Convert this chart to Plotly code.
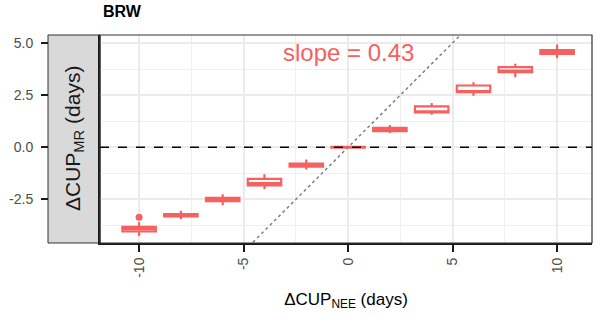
import plotly.graph_objects as go

# data
x_pos = [-10, -8, -6, -4, -2, 0, 2, 4, 6, 8, 10]
q1 = [-4.03, -3.31, -2.59, -1.83, -0.93, -0.02, 0.77, 1.67, 2.64, 3.60, 4.48]
med = [-3.92, -3.25, -2.50, -1.72, -0.86, 0.00, 0.85, 1.72, 2.69, 3.67, 4.56]
q3 = [-3.82, -3.20, -2.43, -1.52, -0.79, 0.02, 0.93, 1.96, 2.96, 3.84, 4.66]
lo = [-4.26, -3.44, -2.78, -2.00, -1.07, -0.07, 0.68, 1.56, 2.47, 3.36, 4.26]
hi = [-3.59, -3.05, -2.25, -1.29, -0.59, 0.07, 1.07, 2.12, 3.11, 4.00, 4.93]
out_x = [-10]
out_y = [-3.35]
slope_label = "slope = 0.43"
x_ticks = [-10, -5, 0, 5, 10]
y_ticks = [-2.5, 0.0, 2.5, 5.0]
y_ticklabels = ["-2.5", "0.0", "2.5", "5.0"]

RED = "#F6605F"
XR = [-11.87, 11.67]
YR = [-4.59, 5.38]

fig = go.Figure()
# 1:1 line
fig.add_trace(go.Scatter(x=[XR[0], XR[1]], y=[XR[0], XR[1]], mode="lines",
                         line=dict(color="#7F7F7F", dash="dot", width=1.5),
                         hoverinfo="skip", showlegend=False))
fig.add_trace(go.Box(x=x_pos, q1=q1, median=med, q3=q3, lowerfence=lo, upperfence=hi,
                     width=1.6, whiskerwidth=0, boxpoints=False,
                     line=dict(color=RED, width=2.2), fillcolor="white",
                     showlegend=False))
fig.add_trace(go.Scatter(x=out_x, y=out_y, mode="markers",
                         marker=dict(color=RED, size=7), showlegend=False))
# dummy trace for free y axis
fig.add_trace(go.Scatter(x=[0], y=[0], yaxis="y2", mode="markers",
                         marker=dict(opacity=0), hoverinfo="skip", showlegend=False))

L, R, T, B = 48, 8, 35, 71
pw = 600 - L - R
xd0 = (100 - L) / pw

fig.update_layout(
    width=600, height=314,
    margin=dict(l=L, r=R, t=T, b=B, autoexpand=False),
    paper_bgcolor="white", plot_bgcolor="white",
    font=dict(family="Liberation Sans, Arial", color="#4D4D4D"),
    xaxis=dict(domain=[xd0, 1], range=XR, tickvals=x_ticks, ticktext=[str(v) for v in x_ticks],
               tickangle=-90, ticks="outside", ticklen=7, tickwidth=1.8, tickcolor="#1A1A1A",
               tickfont=dict(size=14, color="#4D4D4D"), automargin=False,
               showgrid=True, gridcolor="#EBEBEB", gridwidth=1.6,
               minor=dict(dtick=2.5, tick0=0, showgrid=True, gridcolor="#EFEFEF", gridwidth=0.8),
               zeroline=False, showline=True, linecolor="#1A1A1A", linewidth=2, mirror=False,
               title=dict(text="ΔCUP<sub>NEE</sub> (days)", font=dict(size=17, color="black"), standoff=16)),
    yaxis=dict(range=YR, tickvals=y_ticks, showticklabels=False, ticks="", automargin=False,
               showgrid=True, gridcolor="#EBEBEB", gridwidth=1.6,
               minor=dict(dtick=1.25, tick0=0, showgrid=True, gridcolor="#EFEFEF", gridwidth=0.8),
               zeroline=False, showline=True, linecolor="#1A1A1A", linewidth=2),
    yaxis2=dict(range=YR, overlaying="y", anchor="free", position=0, side="left",
                tickvals=y_ticks, ticktext=y_ticklabels, ticks="outside", ticklen=7,
                ticklabelstandoff=5,
                tickwidth=1.8, tickcolor="#1A1A1A", tickfont=dict(size=14, color="#4D4D4D"),
                showgrid=False, zeroline=False, showline=False, automargin=False),
    shapes=[
        dict(type="rect", xref="paper", yref="paper", x0=0, x1=xd0, y0=0, y1=1,
             fillcolor="#D9D9D9", line=dict(color="#333333", width=1), layer="below"),
        dict(type="rect", xref="paper", yref="paper", x0=xd0, x1=1, y0=0, y1=1,
             fillcolor="rgba(0,0,0,0)", line=dict(color="#333333", width=1.2), layer="above"),
        dict(type="line", xref="paper", yref="y", x0=xd0, x1=1, y0=0, y1=0,
             line=dict(color="black", dash="dash", width=1.3)),
    ],
    annotations=[
        dict(text="<b>BRW</b>", xref="paper", yref="paper", x=(101 - L) / pw, y=1 + (T - 12) / 208,
             xanchor="left", yanchor="middle", showarrow=False, font=dict(size=16, color="black")),
        dict(text="ΔCUP<sub>MR</sub> (days)", xref="paper", yref="paper", x=(74 - L) / pw, y=0.5,
             xanchor="center", yanchor="middle", textangle=-90, showarrow=False,
             font=dict(size=21, color="#1A1A1A")),
        dict(text=slope_label, xref="x", yref="paper", x=0, y=1 - (52 - T) / 208,
             xanchor="center", yanchor="middle", showarrow=False, font=dict(size=24, color=RED)),
    ],
)

fig.write_html("out.html", config={"displayModeBar": False},
               post_script="document.body.style.margin='0px';")
